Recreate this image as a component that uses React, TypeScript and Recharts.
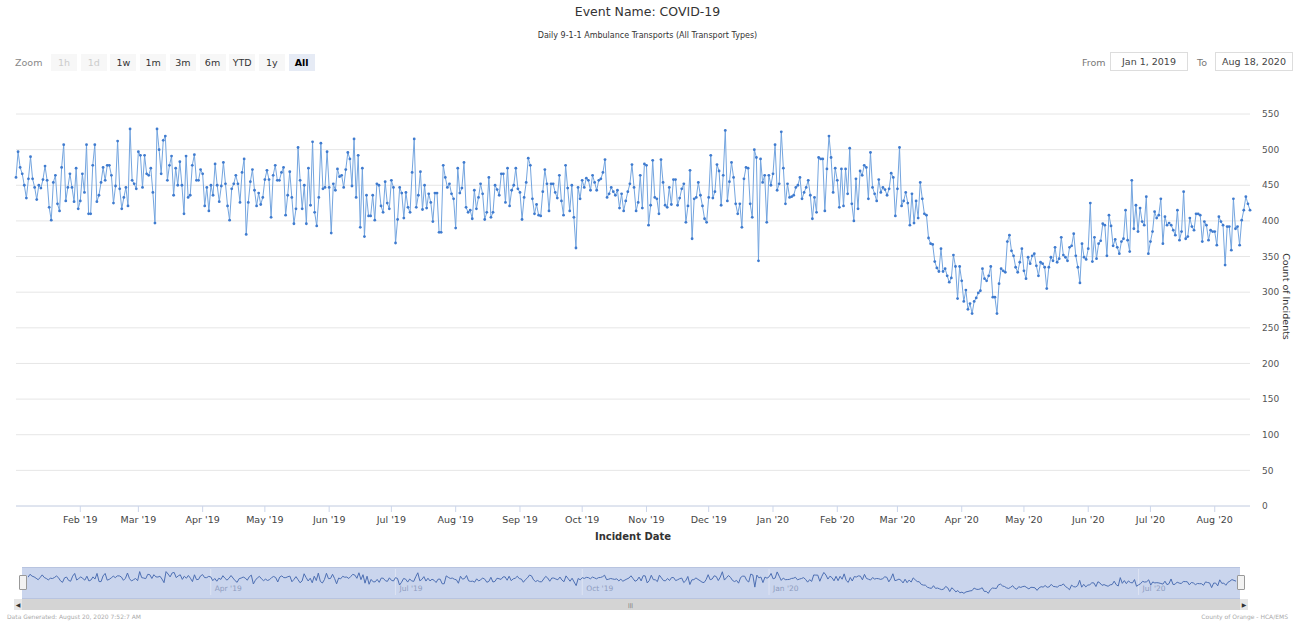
import React from "react";
import { LineChart, Line, XAxis, YAxis, CartesianGrid, ReferenceLine } from "recharts";

// daily ambulance transports
const jan19 = [461, 497, 475, 466, 450, 432, 459, 490, 459, 447, 430, 450, 446, 458, 477, 457, 419, 401, 454, 464, 424, 414, 475, 507, 428, 447, 466, 447, 427, 474, 417];
const feb19 = [428, 466, 440, 507, 410, 410, 478, 507, 427, 436, 454, 475, 457, 478, 478, 464, 425, 449, 512, 445, 417, 433, 447, 421, 529, 457, 452, 445];
const mar19 = [497, 492, 447, 492, 466, 464, 474, 440, 397, 529, 500, 466, 513, 519, 457, 478, 491, 436, 474, 450, 483, 450, 410, 491, 433, 436, 478, 493, 457, 457, 472];
const apr19 = [466, 421, 447, 414, 450, 436, 480, 450, 427, 449, 482, 452, 421, 401, 445, 452, 464, 452, 426, 468, 487, 381, 426, 455, 472, 443, 421, 439, 423, 433];
const may19 = [458, 471, 458, 405, 464, 478, 457, 457, 468, 475, 408, 436, 469, 433, 396, 417, 503, 457, 417, 450, 396, 474, 422, 511, 412, 393, 433, 509, 445, 447, 497];
const jun19 = [447, 383, 452, 443, 473, 462, 464, 447, 472, 496, 487, 449, 515, 433, 492, 391, 474, 378, 436, 407, 407, 436, 401, 452, 450, 421, 412, 455, 425, 417];
const jul19 = [457, 447, 369, 402, 447, 439, 404, 440, 419, 412, 468, 515, 419, 436, 469, 416, 450, 418, 438, 426, 399, 439, 439, 384, 384, 478, 461, 447, 452, 438, 431];
const aug19 = [390, 474, 439, 446, 482, 419, 412, 415, 403, 443, 417, 433, 452, 438, 402, 412, 461, 405, 412, 450, 444, 436, 466, 466, 426, 474, 421, 443, 450, 474, 445];
const sep19 = [440, 402, 433, 454, 488, 478, 431, 410, 423, 408, 407, 441, 472, 452, 414, 452, 452, 440, 432, 464, 428, 408, 478, 446, 414, 450, 405, 362, 447, 431];
const oct19 = [457, 447, 460, 457, 443, 464, 454, 443, 457, 459, 468, 486, 433, 438, 447, 441, 436, 443, 418, 438, 414, 428, 441, 452, 479, 447, 414, 426, 464, 418, 480];
const nov19 = [478, 394, 422, 485, 433, 431, 410, 486, 454, 422, 419, 447, 423, 458, 458, 422, 432, 445, 452, 398, 421, 471, 375, 431, 433, 454, 436, 421, 403, 398];
const dec19 = [433, 492, 432, 441, 479, 470, 422, 464, 527, 428, 455, 482, 461, 424, 410, 424, 391, 459, 475, 474, 424, 405, 500, 489, 344, 487, 454, 464, 398, 464, 450];
const jan20 = [466, 507, 443, 452, 525, 474, 424, 452, 433, 434, 436, 447, 450, 461, 431, 440, 447, 457, 436, 403, 433, 412, 489, 487, 487, 414, 473, 519, 489, 440, 474];
const feb20 = [457, 419, 473, 421, 473, 438, 502, 424, 400, 459, 417, 470, 464, 478, 475, 431, 496, 447, 438, 428, 458, 440, 447, 444, 436, 445, 467, 461, 407];
const mar20 = [445, 503, 421, 428, 440, 425, 394, 438, 397, 428, 404, 454, 431, 410, 408, 376, 368, 367, 343, 334, 329, 361, 329, 333, 323, 314, 320, 352, 336, 291, 336];
const apr20 = [316, 287, 303, 276, 284, 270, 287, 292, 299, 302, 333, 319, 316, 323, 336, 293, 293, 270, 312, 333, 330, 328, 371, 380, 358, 351, 335, 328, 342, 361];
const may20 = [330, 319, 349, 340, 351, 354, 337, 323, 342, 340, 335, 305, 335, 349, 344, 363, 342, 347, 377, 352, 349, 344, 363, 365, 382, 351, 335, 313, 368, 349, 346];
const jun20 = [361, 425, 343, 377, 347, 368, 372, 396, 394, 351, 408, 393, 365, 374, 363, 354, 371, 375, 415, 373, 357, 457, 389, 422, 385, 418, 399, 394, 434, 354];
const jul20 = [371, 385, 413, 404, 408, 431, 368, 406, 394, 397, 394, 387, 380, 415, 373, 385, 441, 375, 378, 404, 392, 387, 410, 410, 408, 371, 399, 394, 373, 387, 385];
const aug20 = [385, 366, 406, 399, 394, 338, 392, 392, 359, 431, 389, 392, 366, 401, 415, 434, 424, 415];

const monthLabels = [
  "Jan '19", "Feb '19", "Mar '19", "Apr '19", "May '19", "Jun '19", "Jul '19", "Aug '19", "Sep '19", "Oct '19",
  "Nov '19", "Dec '19", "Jan '20", "Feb '20", "Mar '20", "Apr '20", "May '20", "Jun '20", "Jul '20", "Aug '20",
];
const monthValues = [
  jan19, feb19, mar19, apr19, may19, jun19, jul19, aug19, sep19, oct19,
  nov19, dec19, jan20, feb20, mar20, apr20, may20, jun20, jul20, aug20,
];

const yTicks = [0, 50, 100, 150, 200, 250, 300, 350, 400, 450, 500, 550];
const navLabels = ["Apr '19", "Jul '19", "Oct '19", "Jan '20", "Jul '20"];
const zoomButtons = ["1h", "1d", "1w", "1m", "3m", "6m", "YTD", "1y", "All"];
const disabledButtons = ["1h", "1d"];

const data: { day: number; count: number }[] = [];
const monthStart: number[] = [];
monthValues.forEach((vals) => {
  monthStart.push(data.length);
  vals.forEach((v) => data.push({ day: data.length, count: v }));
});
const lastDay = data.length - 1;
const mainTicks = monthStart.slice(1);
const navTicks = navLabels.map((l) => monthStart[monthLabels.indexOf(l)]);
const labelOf = (d: number) => monthLabels[monthStart.indexOf(d)] ?? "";

const font = '"Lucida Grande", "DejaVu Sans", sans-serif';

export default function App() {
  return (
    <div style={{ position: "absolute", left: 0, top: 0, width: 1295, height: 623, background: "#fff", fontFamily: font, overflow: "hidden" }}>
      <LineChart width={1295} height={546} data={data} margin={{ top: 114, right: 0, left: 16, bottom: 0 }} style={{ position: "absolute", left: 0, top: 0 }}>
        <CartesianGrid vertical={false} stroke="#e6e6e6" />
        <XAxis
          dataKey="day"
          type="number"
          domain={[0, lastDay]}
          ticks={mainTicks}
          tickFormatter={labelOf}
          interval={0}
          height={40}
          stroke="#ccd6eb"
          tickSize={6}
          tickMargin={4}
          tick={{ fontSize: 9.5, fill: "#444", fontFamily: font }}
        />
        <YAxis
          orientation="right"
          domain={[0, 550]}
          ticks={yTicks}
          width={45}
          axisLine={false}
          tickLine={false}
          tickMargin={6}
          tick={{ fontSize: 9, fill: "#555", fontFamily: font }}
        />
        <Line
          type="linear"
          dataKey="count"
          stroke="#74a5df"
          strokeWidth={1}
          dot={{ r: 1.4, fill: "#3f7bcf", stroke: "none" }}
          isAnimationActive={false}
        />
      </LineChart>

      {/* title */}
      <div style={{ position: "absolute", left: 0, width: 1295, top: 4, textAlign: "center", fontSize: 12.5, color: "#333" }}>Event Name: COVID-19</div>
      <div style={{ position: "absolute", left: 0, width: 1295, top: 31, textAlign: "center", fontSize: 8, color: "#333" }}>Daily 9-1-1 Ambulance Transports (All Transport Types)</div>

      {/* range selector */}
      <div style={{ position: "absolute", left: 15, top: 57, fontSize: 9.5, color: "#888" }}>Zoom</div>
      {zoomButtons.map((b, i) => {
        const sel = b === "All";
        const off = disabledButtons.includes(b);
        return (
          <div
            key={b}
            style={{
              position: "absolute", left: 51 + i * 29.7, top: 54, width: 26, height: 17, lineHeight: "17px",
              textAlign: "center", fontSize: 9.5, background: sel ? "#e6ebf5" : "#f7f7f7",
              color: off ? "#ccc" : sel ? "#000" : "#333", fontWeight: sel ? "bold" : "normal",
            }}
          >
            {b}
          </div>
        );
      })}

      {/* date inputs */}
      <div style={{ position: "absolute", left: 1082, top: 57, fontSize: 9.5, color: "#777" }}>From</div>
      <div style={{ position: "absolute", left: 1110, top: 52, width: 76, height: 17, border: "1px solid #ddd", fontSize: 9.5, color: "#444", textAlign: "center", lineHeight: "17px" }}>Jan 1, 2019</div>
      <div style={{ position: "absolute", left: 1197, top: 57, fontSize: 9.5, color: "#777" }}>To</div>
      <div style={{ position: "absolute", left: 1215, top: 52, width: 76, height: 17, border: "1px solid #ddd", fontSize: 9.5, color: "#444", textAlign: "center", lineHeight: "17px" }}>Aug 18, 2020</div>

      {/* axis titles */}
      <div style={{ position: "absolute", left: 0, width: 1266, top: 531, textAlign: "center", fontSize: 10, color: "#333", fontWeight: "bold" }}>Incident Date</div>
      <div style={{ position: "absolute", left: 1286, top: 297, width: 0, height: 0 }}>
        <div style={{ position: "absolute", left: -50, top: -6, width: 100, textAlign: "center", fontSize: 9.5, color: "#333", transform: "rotate(90deg)", whiteSpace: "nowrap" }}>Count of Incidents</div>
      </div>

      {/* navigator */}
      <div style={{ position: "absolute", left: 22, top: 567, width: 1218, height: 30, background: "#cad5ed", borderTop: "1px solid #b8c4e0", borderBottom: "1px solid #b8c4e0" }} />
      <LineChart width={1208} height={28} data={data} margin={{ top: 1, right: 0, left: 0, bottom: 1 }} style={{ position: "absolute", left: 28, top: 568 }}>
        <XAxis dataKey="day" type="number" domain={[0, lastDay]} hide />
        <YAxis domain={[250, 560]} hide />
        {navTicks.map((t, i) => (
          <ReferenceLine
            key={t}
            x={t}
            stroke="#dde3f2"
            label={{ value: navLabels[i], position: "insideBottomLeft", fill: "#8e9cc0", fontSize: 7.5, fontFamily: font, offset: 4 }}
          />
        ))}
        <Line type="linear" dataKey="count" stroke="#4d6fb3" strokeWidth={1} dot={false} isAnimationActive={false} />
      </LineChart>
      {[19, 1237].map((x) => (
        <div key={x} style={{ position: "absolute", left: x, top: 575, width: 6, height: 13, background: "#f2f2f2", border: "1px solid #999", borderRadius: 1 }} />
      ))}

      {/* scrollbar */}
      <div style={{ position: "absolute", left: 14, top: 599, width: 1234, height: 11, background: "#f2f2f2" }} />
      <div style={{ position: "absolute", left: 22, top: 599, width: 1218, height: 11, background: "#d4d4d4" }} />
      <div style={{ position: "absolute", left: 14, top: 599, width: 8, height: 11, background: "#e6e6e6", fontSize: 6, color: "#333", textAlign: "center", lineHeight: "11px" }}>◀</div>
      <div style={{ position: "absolute", left: 1240, top: 599, width: 8, height: 11, background: "#e6e6e6", fontSize: 6, color: "#333", textAlign: "center", lineHeight: "11px" }}>▶</div>
      <div style={{ position: "absolute", left: 628, top: 602, fontSize: 5, color: "#555", letterSpacing: 0 }}>|||</div>

      {/* footer */}
      <div style={{ position: "absolute", left: 7, top: 613, fontSize: 6, color: "#aaa" }}>Data Generated: August 20, 2020 7:52:7 AM</div>
      <div style={{ position: "absolute", right: 7, top: 613, fontSize: 6, color: "#aaa" }}>County of Orange - HCA/EMS</div>
    </div>
  );
}
